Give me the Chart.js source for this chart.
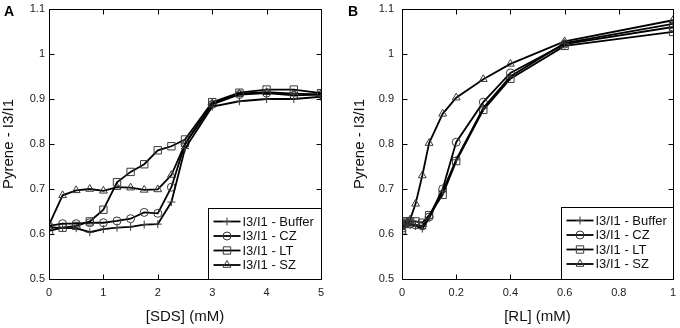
<!DOCTYPE html>
<html>
<head>
<meta charset="utf-8">
<script src="https://cdn.jsdelivr.net/npm/chart.js@4"></script>
<style>
  body { margin: 0; background: #fff; }
  .wrap { display: flex; width: 680px; height: 328px; }
  canvas { display: block; }
</style>
</head>
<body>
<div class="wrap">
  <canvas id="chartA" width="340" height="328"></canvas>
  <canvas id="chartB" width="340" height="328"></canvas>
</div>
<script>
// panel A: SDS concentration (mM)
const sdsX = [0, 0.25, 0.5, 0.75, 1, 1.25, 1.5, 1.75, 2, 2.25, 2.5, 3, 3.5, 4, 4.5, 5];
const sdsBuffer = [0.615, 0.613, 0.613, 0.604, 0.611, 0.614, 0.616, 0.621, 0.622, 0.671, 0.79, 0.883, 0.895, 0.9, 0.9, 0.905];
const sdsCZ = [0.618, 0.623, 0.623, 0.625, 0.625, 0.629, 0.634, 0.648, 0.646, 0.704, 0.8, 0.888, 0.91, 0.913, 0.908, 0.91];
const sdsLT = [0.607, 0.614, 0.618, 0.628, 0.654, 0.715, 0.738, 0.755, 0.786, 0.795, 0.81, 0.893, 0.914, 0.921, 0.921, 0.913];
const sdsSZ = [0.62, 0.686, 0.697, 0.7, 0.696, 0.704, 0.703, 0.698, 0.699, 0.731, 0.8, 0.89, 0.912, 0.915, 0.912, 0.91];

// panel B: RL concentration (mM)
const rlX = [0, 0.01, 0.02, 0.03, 0.05, 0.075, 0.1, 0.15, 0.2, 0.3, 0.4, 0.6, 1];
const rlBuffer = [0.615, 0.62, 0.622, 0.62, 0.618, 0.612, 0.635, 0.695, 0.765, 0.88, 0.95, 1.024, 1.067];
const rlCZ = [0.618, 0.622, 0.625, 0.622, 0.62, 0.618, 0.638, 0.7, 0.804, 0.893, 0.958, 1.022, 1.06];
const rlLT = [0.608, 0.628, 0.628, 0.628, 0.628, 0.625, 0.642, 0.687, 0.762, 0.876, 0.945, 1.018, 1.049];
const rlSZ = [0.61, 0.62, 0.625, 0.632, 0.667, 0.73, 0.802, 0.867, 0.903, 0.944, 0.978, 1.028, 1.075];

const seriesNames = ['I3/I1 - Buffer', 'I3/I1 - CZ', 'I3/I1 - LT', 'I3/I1 - SZ'];
const markers = ['cross', 'circle', 'rect', 'triangle'];
const markerSizes = [4, 4, 5.2, 4.5];

const FONT = "'Liberation Sans', Arial, sans-serif";

function toPoints(xs, ys) {
  return xs.map((x, i) => ({ x: x, y: ys[i] }));
}

function makeDatasets(xs, seriesList) {
  return seriesList.map((ys, i) => ({
    label: seriesNames[i],
    data: toPoints(xs, ys),
    borderColor: '#000',
    borderWidth: 1.8,
    tension: 0,
    pointStyle: markers[i],
    pointRadius: markerSizes[i],
    pointBorderColor: '#3a3a3a',
    pointBorderWidth: 1,
    pointBackgroundColor: 'rgba(0,0,0,0)'
  }));
}

const fmt = v => String(Math.round(v * 10) / 10);

// box round the plot, inward tick marks on every side, panel letter, legend
const framePlugin = {
  id: 'frame',
  afterDraw(chart, args, opts) {
    const { ctx, chartArea: a, scales } = chart;
    const L = Math.round(a.left) + 0.5, R = Math.round(a.right) + 0.5;
    const T = Math.round(a.top) + 0.5, B = Math.round(a.bottom) + 0.5;
    const tl = 5;
    ctx.save();
    ctx.strokeStyle = '#000';
    ctx.lineWidth = 1;
    ctx.beginPath();
    scales.x.ticks.forEach(t => {
      const px = Math.round(scales.x.getPixelForValue(t.value)) + 0.5;
      ctx.moveTo(px, B); ctx.lineTo(px, B - tl);
      ctx.moveTo(px, T); ctx.lineTo(px, T + tl);
    });
    scales.y.ticks.forEach(t => {
      const py = Math.round(scales.y.getPixelForValue(t.value)) + 0.5;
      ctx.moveTo(L, py); ctx.lineTo(L + tl, py);
      ctx.moveTo(R, py); ctx.lineTo(R - tl, py);
    });
    ctx.stroke();

    // legend
    const lg = opts.legend;
    const bx = Math.round(lg.x) + 0.5, by = Math.round(lg.y) + 0.5;
    ctx.fillStyle = '#fff';
    ctx.fillRect(bx, by, R - bx, B - by);
    ctx.strokeRect(bx, by, R - bx, B - by);
    ctx.font = `13px ${FONT}`;
    ctx.textBaseline = 'middle';
    ctx.textAlign = 'left';
    chart.data.datasets.forEach((ds, i) => {
      const y = lg.y + 13.5 + i * 14.5;
      const x0 = bx + 5, x1 = bx + 32;
      ctx.strokeStyle = '#000';
      ctx.lineWidth = 1.8;
      ctx.beginPath();
      ctx.moveTo(x0, y); ctx.lineTo(x1, y);
      ctx.stroke();
      ctx.strokeStyle = ds.pointBorderColor;
      ctx.fillStyle = ds.pointBackgroundColor;
      ctx.lineWidth = 1;
      Chart.helpers.drawPoint(ctx, {
        pointStyle: ds.pointStyle, radius: ds.pointRadius, rotation: 0, borderWidth: 1
      }, (x0 + x1) / 2, y);
      ctx.fillStyle = '#111';
      ctx.fillText(ds.label, x1 + 2, y + 0.5);
    });

    // outer frame drawn last so it sits on top of the lines
    ctx.strokeStyle = '#000';
    ctx.lineWidth = 1;
    ctx.strokeRect(L, T, R - L, B - T);

    ctx.fillStyle = '#000';
    ctx.font = `bold 14px ${FONT}`;
    ctx.textBaseline = 'alphabetic';
    ctx.fillText(opts.letter, opts.letterX, 16);
    ctx.restore();
  }
};

function buildChart(canvasId, cfg) {
  return new Chart(document.getElementById(canvasId), {
    type: 'line',
    data: { datasets: makeDatasets(cfg.xs, cfg.series) },
    options: {
      responsive: false,
      animation: false,
      layout: { padding: { left: cfg.padLeft, right: cfg.padRight, top: 9, bottom: 0 } },
      plugins: {
        legend: { display: false },
        tooltip: { enabled: false },
        frame: { letter: cfg.letter, letterX: cfg.letterX, legend: cfg.legend }
      },
      scales: {
        x: {
          type: 'linear',
          min: cfg.xMin, max: cfg.xMax,
          afterFit: s => {
            s.height = 49;
            s.paddingLeft = 0;
            s.paddingRight = 0;
          },
          grid: { display: false, drawTicks: false },
          border: { display: false },
          ticks: {
            stepSize: cfg.xStep,
            padding: 7,
            color: '#222',
            font: { family: FONT, size: 11 },
            maxRotation: 0,
            callback: fmt
          },
          title: {
            display: true,
            text: cfg.xTitle,
            color: '#111',
            font: { family: FONT, size: 15 },
            padding: { top: 0, bottom: 2 }
          }
        },
        y: {
          min: 0.5, max: 1.1,
          afterFit: s => {
            s.width = cfg.yWidth;
            s.paddingTop = 0;
            s.paddingBottom = 0;
          },
          grid: { display: false, drawTicks: false },
          border: { display: false },
          ticks: {
            stepSize: 0.1,
            padding: cfg.yPad,
            color: '#222',
            font: { family: FONT, size: 11 },
            callback: fmt
          },
          title: {
            display: true,
            text: 'Pyrene - I3/I1',
            color: '#111',
            font: { family: FONT, size: 15 },
            padding: { top: 0, bottom: 0 }
          }
        }
      }
    },
    plugins: [framePlugin]
  });
}

buildChart('chartA', {
  xs: sdsX,
  series: [sdsBuffer, sdsCZ, sdsLT, sdsSZ],
  xMin: 0, xMax: 5, xStep: 1,
  xTitle: '[SDS] (mM)',
  padLeft: 0, padRight: 19, yWidth: 49, yPad: 4,
  letter: 'A', letterX: 4,
  legend: { x: 208, y: 208 }
});

buildChart('chartB', {
  xs: rlX,
  series: [rlBuffer, rlCZ, rlLT, rlSZ],
  xMin: 0, xMax: 1, xStep: 0.2,
  xTitle: '[RL] (mM)',
  padLeft: 11, padRight: 7, yWidth: 51, yPad: 8,
  letter: 'B', letterX: 8,
  legend: { x: 221, y: 207 }
});
</script>
</body>
</html>
